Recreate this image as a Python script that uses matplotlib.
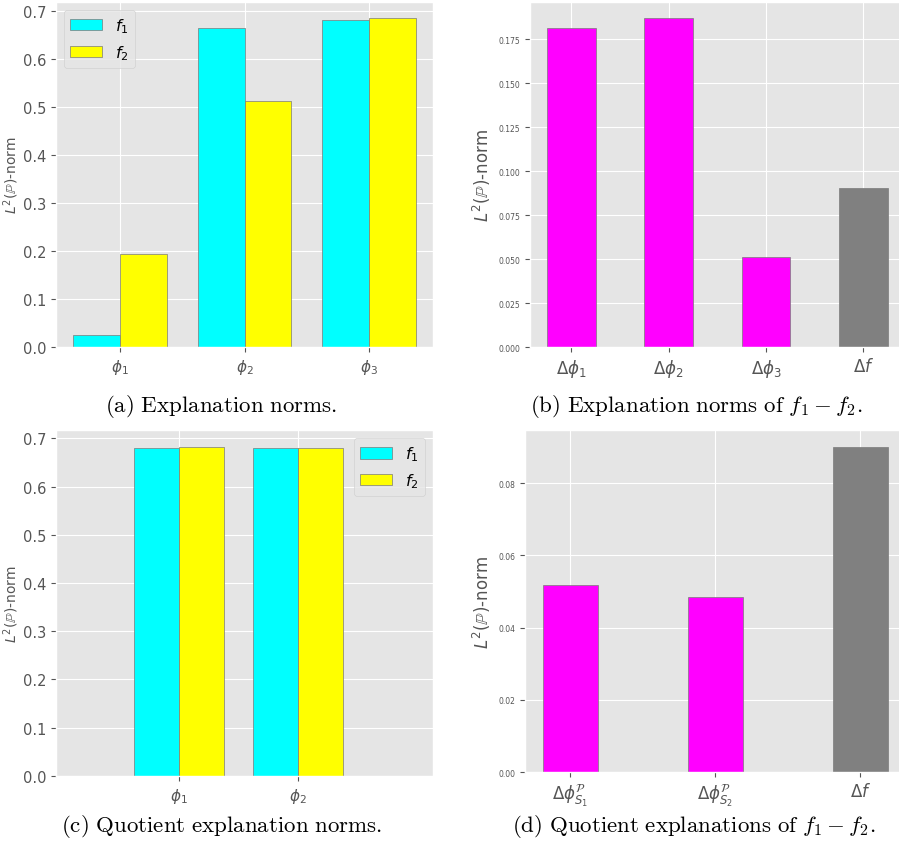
import matplotlib
matplotlib.use("Agg")
import matplotlib.pyplot as plt
import numpy as np

plt.style.use("ggplot")

# (a) explanation norms
feat_a = [r"$\phi_1$", r"$\phi_2$", r"$\phi_3$"]
f1_a = [0.026, 0.665, 0.681]
f2_a = [0.193, 0.513, 0.684]

# (b) explanation norms of f1 - f2
lab_b = [r"$\Delta\phi_1$", r"$\Delta\phi_2$", r"$\Delta\phi_3$", r"$\Delta f$"]
val_b = [0.181, 0.1867, 0.0509, 0.0903]
col_b = ["magenta", "magenta", "magenta", "grey"]

# (c) quotient explanation norms
feat_c = [r"$\phi_1$", r"$\phi_2$"]
f1_c = [0.6805, 0.6805]
f2_c = [0.6825, 0.6805]

# (d) quotient explanations of f1 - f2
lab_d = [r"$\Delta\phi^{\mathcal{P}}_{S_1}$", r"$\Delta\phi^{\mathcal{P}}_{S_2}$", r"$\Delta f$"]
val_d = [0.0519, 0.0484, 0.0901]
col_d = ["magenta", "magenta", "grey"]

ylab = r"$L^2(\mathbb{P})$-norm"
edge = "#7a7a7a"

fig = plt.figure(figsize=(8.99, 8.54), dpi=100)
fig.patch.set_facecolor("white")

ax1 = fig.add_axes([0.0623, 0.5925, 0.4194, 0.404])
ax2 = fig.add_axes([0.5895, 0.5925, 0.417, 0.404])
ax3 = fig.add_axes([0.0623, 0.0902, 0.4194, 0.4048])
ax4 = fig.add_axes([0.5843, 0.0948, 0.4224, 0.4001])

w = 0.377
x = np.arange(len(feat_a))
ax1.bar(x - w / 2, f1_a, w, color="cyan", edgecolor=edge, label=r"$f_1$")
ax1.bar(x + w / 2, f2_a, w, color="yellow", edgecolor=edge, label=r"$f_2$")
ax1.set_xticks(x)
ax1.set_xticklabels(feat_a, fontsize=11)
ax1.tick_params(axis="y", labelsize=10.5)
ax1.set_ylabel(ylab, fontsize=10, labelpad=1)
ax1.legend(loc="upper left", fontsize=11.5)

x = np.arange(len(lab_b))
ax2.bar(x, val_b, 0.5, color=col_b, edgecolor=edge)
ax2.set_xticks(x)
ax2.set_xticklabels(lab_b, fontsize=12)
ax2.set_yticks(np.arange(0, 0.2, 0.025))
ax2.tick_params(axis="y", labelsize=5.5)
ax2.set_ylabel(ylab, fontsize=12)

x = np.arange(len(feat_c))
ax3.bar(x - w / 2, f1_c, w, color="cyan", edgecolor=edge, label=r"$f_1$")
ax3.bar(x + w / 2, f2_c, w, color="yellow", edgecolor=edge, label=r"$f_2$")
ax3.set_xticks(x)
ax3.set_xticklabels(feat_c, fontsize=11)
ax3.set_xlim(-1.03, 2.13)
ax3.tick_params(axis="y", labelsize=10.5)
ax3.set_ylabel(ylab, fontsize=10, labelpad=1)
ax3.legend(loc="upper right", fontsize=11.5)

x = np.arange(len(lab_d))
ax4.bar(x, val_d, 0.38, color=col_d, edgecolor=edge)
ax4.set_xticks(x)
ax4.set_xticklabels(lab_d, fontsize=12)
ax4.set_yticks([0, 0.02, 0.04, 0.06, 0.08])
ax4.tick_params(axis="y", labelsize=5.5)
ax4.set_ylabel(ylab, fontsize=12)

caps = [
    (221, 407, r"$\mathrm{(a)\ Explanation\ norms.}$"),
    (696, 407, r"$\mathrm{(b)\ Explanation\ norms\ of\ }f_1 - f_2.$"),
    (222, 827, r"$\mathrm{(c)\ Quotient\ explanation\ norms.}$"),
    (694, 827, r"$\mathrm{(d)\ Quotient\ explanations\ of\ }f_1 - f_2.$"),
]
for cx, cy, t in caps:
    fig.text(cx / 899, 1 - cy / 854, t, ha="center", va="center",
             fontsize=16.5, math_fontfamily="cm")

plt.savefig("out.png", dpi=100)
